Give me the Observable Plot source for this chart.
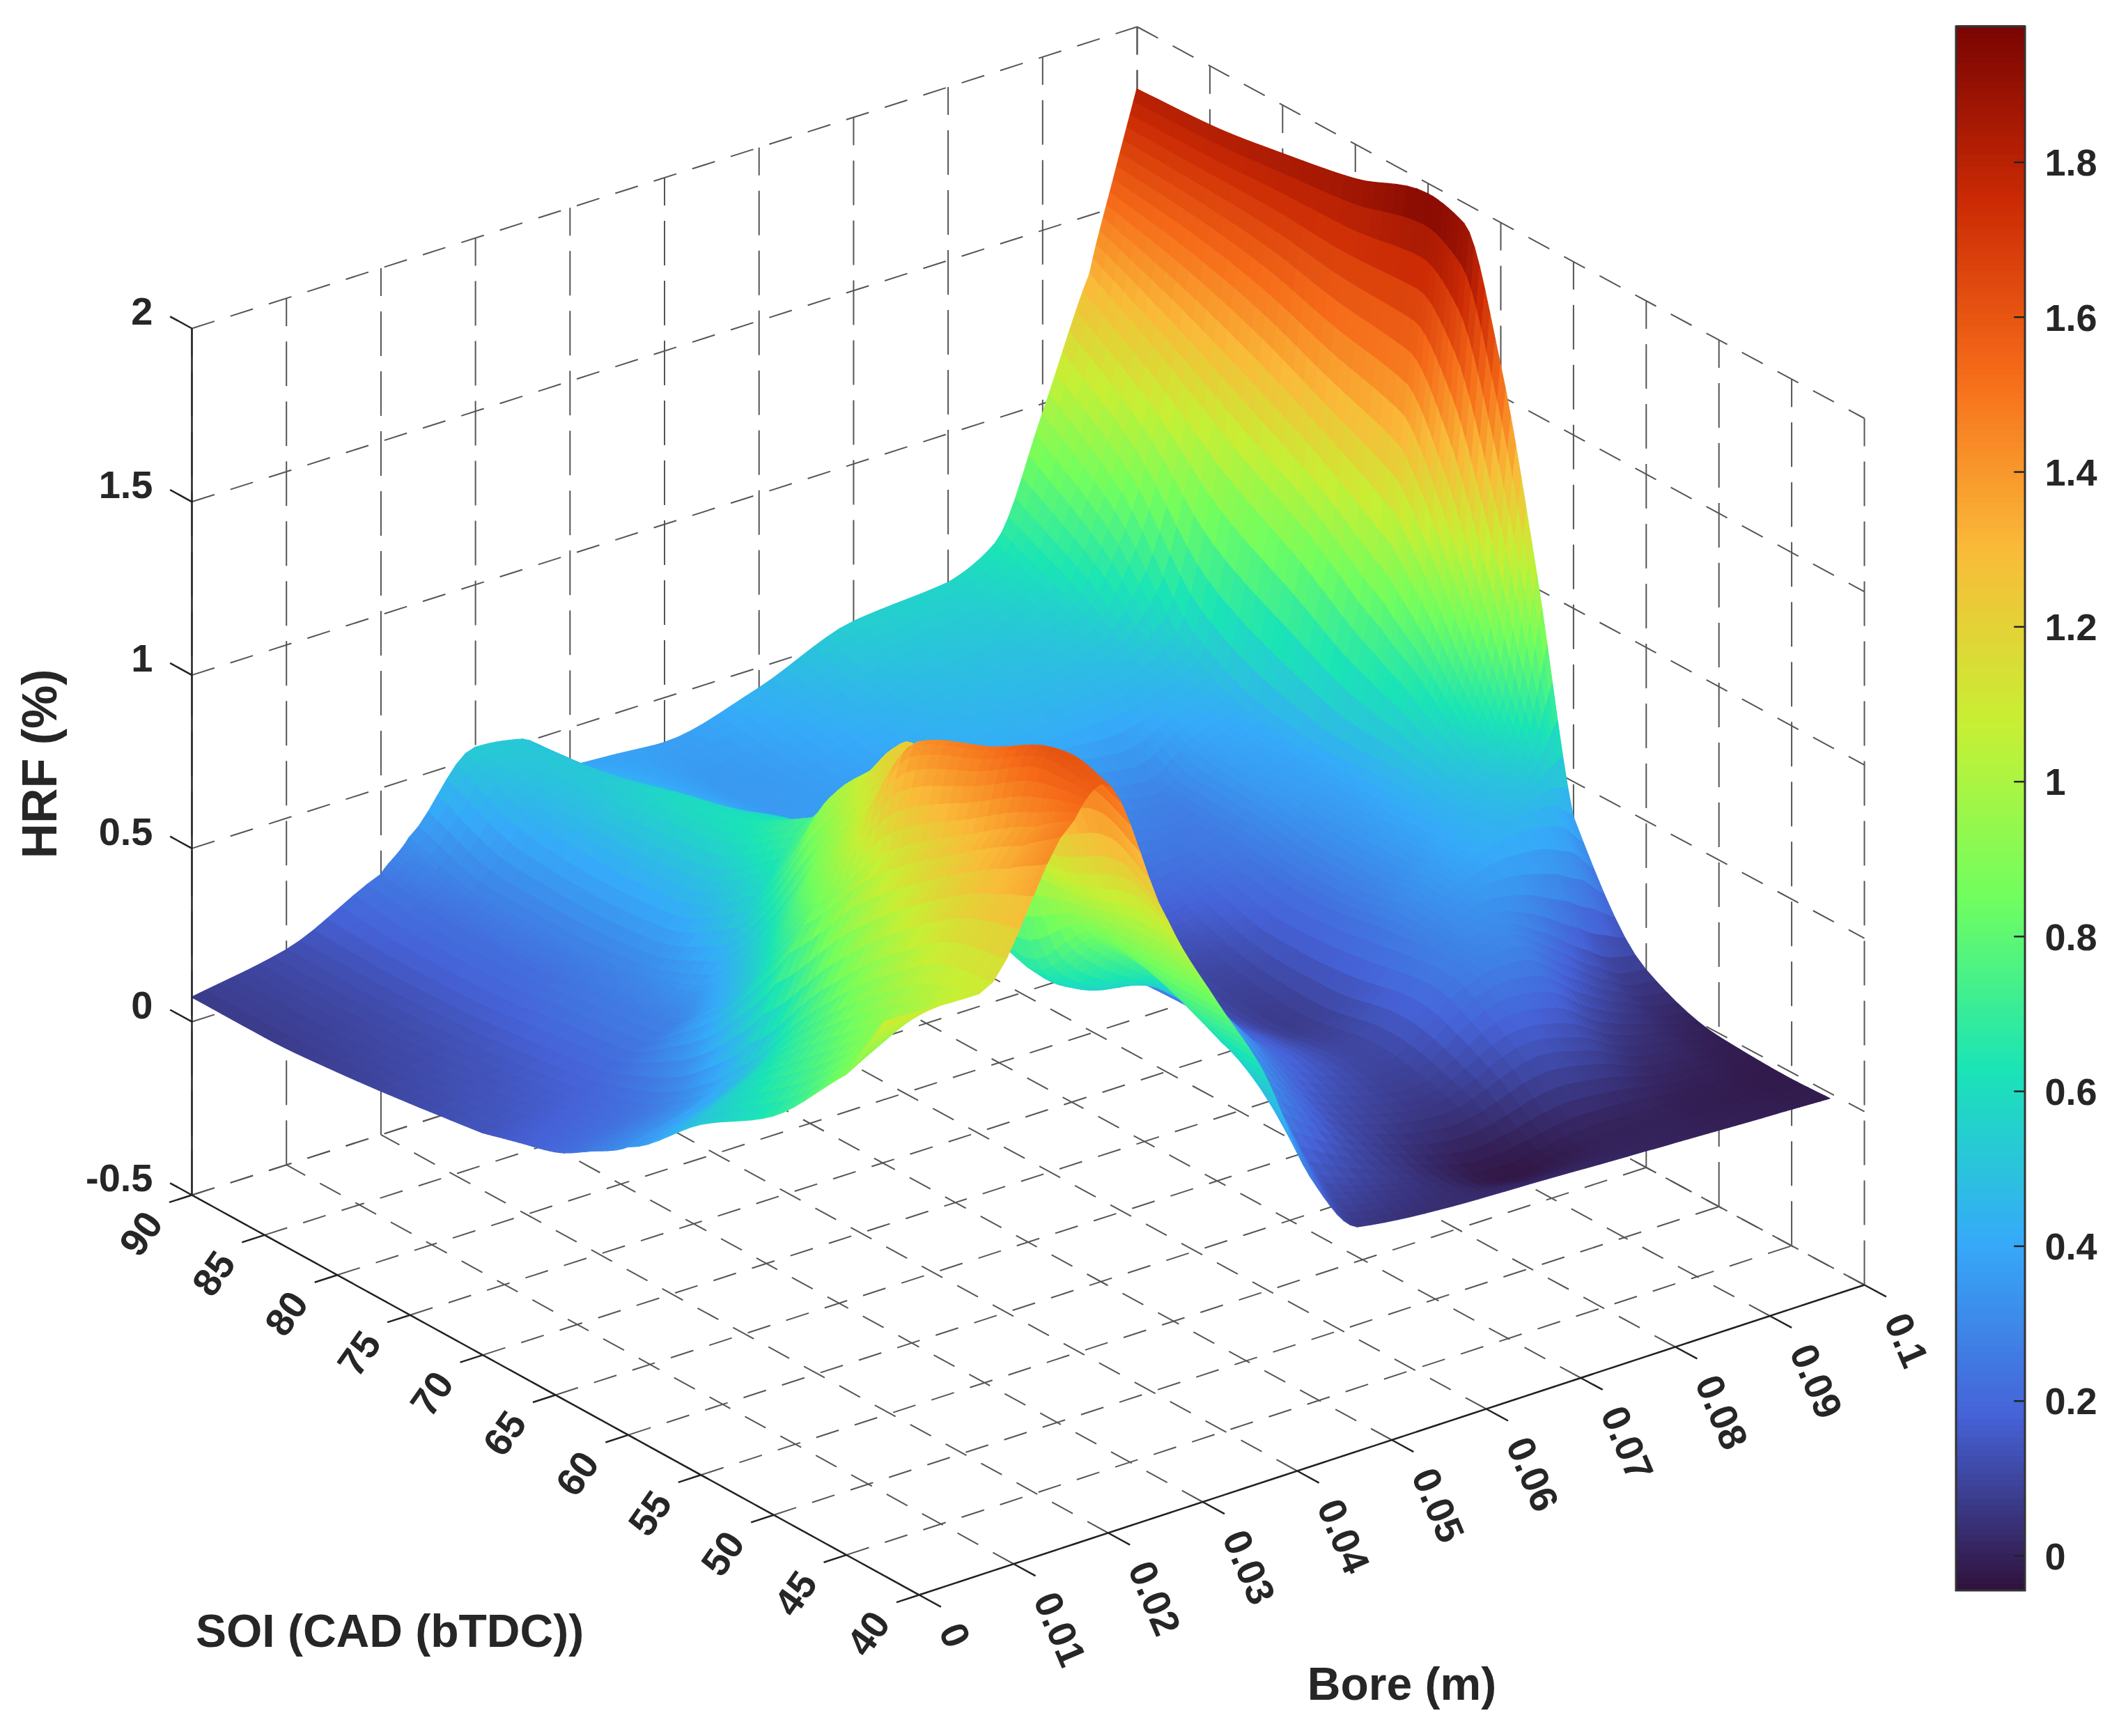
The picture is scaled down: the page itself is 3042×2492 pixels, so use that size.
<!DOCTYPE html>
<html><head><meta charset="utf-8">
<script src="https://cdn.jsdelivr.net/npm/d3@7"></script>
<script src="https://cdn.jsdelivr.net/npm/@observablehq/plot@0.6"></script>
<style>
html,body{margin:0;background:#fff}
#wrap{position:relative;width:3042px;height:2492px;overflow:hidden}
#wrap svg{position:absolute;top:0}
</style></head><body><div id="wrap"></div>
<script>
const boreTicks=[0,0.01,0.02,0.03,0.04,0.05,0.06,0.07,0.08,0.09,0.1];
const soiTicks=[90,85,80,75,70,65,60,55,50,45,40];
const hrfTicks=[-0.5,0,0.5,1,1.5,2];
const barTicks=[0,0.2,0.4,0.6,0.8,1,1.2,1.4,1.6,1.8];
const barDomain=[-0.045,1.975];
const turboStops=["#30123B","#4662D7","#36AAF9","#1AE4B6","#72FE5E","#C8EF34","#FABA39","#F66B19","#CB2A04","#7A0403"];

const boreCols=[0,0.01,0.02,0.023,0.03,0.035,0.04,0.045,0.05,0.06,0.07,0.08,0.085,0.09,0.095,0.0975,0.1];
const soiRows=[90,85,80,75,70,67.5,65,62.5,60,55,50,45,42.35];
const hrf90=[0.07,0.12,0.25,0.33,0.53,0.51,0.39,0.38,0.37,0.44,0.545,0.57,0.64,0.97,1.33,1.58,1.82];
const hrf85=[0.07,0.12,0.22,0.27,0.45,0.52,0.45,0.39,0.35,0.40,0.47,0.50,0.55,0.80,1.20,1.55,1.83];
const hrf80=[0.085,0.13,0.22,0.27,0.44,0.58,0.50,0.42,0.36,0.37,0.42,0.43,0.45,0.52,1.05,1.50,1.86];
const hrf75=[0.11,0.15,0.25,0.29,0.46,0.62,0.58,0.46,0.37,0.35,0.33,0.27,0.37,0.42,0.92,1.42,1.90];
const hrf70=[0.14,0.18,0.28,0.36,0.60,0.74,0.62,0.47,0.36,0.28,0.20,0.25,0.35,0.40,0.76,1.35,1.97];
const hrf675=[0.17,0.21,0.38,0.47,0.78,0.87,0.66,0.50,0.38,0.25,0.14,0.23,0.33,0.41,0.68,1.15,1.94];
const hrf65=[0.20,0.25,0.50,0.63,0.98,0.92,0.66,0.52,0.40,0.22,0.10,0.22,0.33,0.42,0.58,0.88,1.59];
const hrf625=[0.26,0.32,0.67,0.85,1.10,0.85,0.62,0.50,0.41,0.20,0.08,0.23,0.33,0.42,0.50,0.62,1.04];
const hrf60=[0.33,0.42,0.85,1.02,1.23,0.75,0.58,0.47,0.42,0.20,0.07,0.25,0.35,0.42,0.45,0.45,0.40];
const hrf55=[0.51,0.68,1.12,1.41,1.15,0.65,0.55,0.52,0.47,0.20,0.10,0.27,0.30,0.22,0.12,0.08,0.07];
const hrf50=[0.65,0.90,1.28,1.51,1.10,0.85,0.72,0.60,0.36,0.12,0.06,0.15,0.12,0.05,0.02,0.0,-0.01];
const hrf45=[0.885,1.05,1.42,1.61,1.18,0.85,0.62,0.42,0.15,0.05,-0.03,0.0,0.0,-0.01,-0.015,-0.02,-0.02];
const hrf42=[1.10,1.09,1.50,1.58,1.12,0.85,0.60,0.25,0.06,0.03,0.019,0.007,0.001,-0.005,-0.01,-0.013,-0.016];
const hrfRows=[hrf90,hrf85,hrf80,hrf75,hrf70,hrf675,hrf65,hrf625,hrf60,hrf55,hrf50,hrf45,hrf42];

// the chart's oblique 3-D view of (bore, SOI, HRF) onto the page
function sx(b,s){return 1319+1357*(b/0.1)-1044*((s-40)/50);}
function sy(b,s,h){const bf=b/0.1,sf=(s-40)/50;return 2289-445*bf-574*sf-497.6*(h+0.5)+12*bf*sf;}

// shading of the surface between the read grid values (like interpolated shading)
const slope=(d1,d2)=>d1*d2<=0?0:2*d1*d2/(d1+d2);
function mono(a,b,c,d,t){
  const d1=b-a,d2=c-b,d3=d-c,m1=slope(d1,d2),m2=slope(d2,d3),t2=t*t,t3=t2*t;
  return (2*t3-3*t2+1)*b+(t3-2*t2+t)*m1+(-2*t3+3*t2)*c+(t3-t2)*m2;
}
const nB=boreCols.length,nS=soiRows.length;
function at(i,j){
  if(j<0)return 2*at(i,0)-at(i,1);
  if(j>=nS)return 2*at(i,nS-1)-at(i,nS-2);
  if(i<0)return 2*at(0,j)-at(1,j);
  if(i>=nB)return 2*at(nB-1,j)-at(nB-2,j);
  return hrfRows[j][i];
}
function shade(u,v){
  const i=Math.min(Math.floor(u),nB-2),j=Math.min(Math.floor(v),nS-2),tu=u-i,tv=v-j;
  const r=[-1,0,1,2].map(k=>mono(at(i-1,j+k),at(i,j+k),at(i+1,j+k),at(i+2,j+k),tu));
  return mono(r[0],r[1],r[2],r[3],tv);
}
const N=7,cells=[];
const nU=(nB-1)*N,nV=(nS-1)*N;
function P(iu,iv){
  const u=iu/N,v=iv/N,iB=Math.min(Math.floor(u),nB-2),iS=Math.min(Math.floor(v),nS-2);
  const b=boreCols[iB]+(boreCols[iB+1]-boreCols[iB])*(u-iB),s=soiRows[iS]+(soiRows[iS+1]-soiRows[iS])*(v-iS),h=shade(u,v);
  return {x:sx(b,s),y:sy(b,s,h),h};
}
const grid=d3.range(nU+1).map(iu=>d3.range(nV+1).map(iv=>P(iu,iv)));
let id=0;
for(let iu=nU-1;iu>=0;iu--)for(let iv=0;iv<nV;iv++){
  const a=grid[iu][iv],b=grid[iu+1][iv],c=grid[iu][iv+1],d=grid[iu+1][iv+1],v=(a.h+b.h+c.h+d.h)/4;
  cells.push({x1:a.x,y1:a.y,x2:b.x,y2:b.y,v,id},{x1:c.x,y1:c.y,x2:d.x,y2:d.y,v,id});id++;
}

// grid lines
const seg=(b1,s1,h1,b2,s2,h2)=>({x1:sx(b1,s1),y1:sy(b1,s1,h1),x2:sx(b2,s2),y2:sy(b2,s2,h2)});
const hMin=hrfTicks[0],hMax=hrfTicks[hrfTicks.length-1],sBack=90,sFront=40,bBack=0.1,bFront=0;
const vertical=[...boreTicks.map(b=>seg(b,sBack,hMin,b,sBack,hMax)),...soiTicks.map(s=>seg(bBack,s,hMin,bBack,s,hMax))];
const oblique=[
  ...boreTicks.map(b=>seg(b,sFront,hMin,b,sBack,hMin)),
  ...soiTicks.map(s=>seg(bFront,s,hMin,bBack,s,hMin)),
  ...hrfTicks.map(h=>seg(bFront,sBack,h,bBack,sBack,h)),
  ...hrfTicks.map(h=>seg(bBack,sBack,h,bBack,sFront,h))
];
const frame=[seg(bFront,sBack,hMin,bFront,sBack,hMax),seg(bFront,sBack,hMin,bFront,sFront,hMin),seg(bFront,sFront,hMin,bBack,sFront,hMin)];
const tickMarks=[
  ...hrfTicks.map(h=>seg(bFront,sBack,h,bFront,sBack+1.5,h)),
  ...soiTicks.map(s=>seg(bFront,s,hMin,-0.0024,s,hMin)),
  ...boreTicks.map(b=>seg(b,sFront,hMin,b,sFront-1.5,hMin))
];

const font="'Liberation Sans',Arial,sans-serif",ink="#262626";
const main=Plot.plot({
  width:3042,height:2492,margin:0,style:{background:"transparent",fontFamily:font},
  x:{domain:[0,3042],range:[0,3042],axis:null},
  y:{domain:[0,2492],range:[0,2492],axis:null},
  color:{domain:barDomain,interpolate:d3.piecewise(d3.interpolateRgb,turboStops),clamp:true},
  marks:[
    Plot.link(vertical,{x1:"x1",y1:"y1",x2:"x2",y2:"y2",stroke:"#555",strokeWidth:2,strokeDasharray:"64,22"}),
    Plot.link(oblique,{x1:"x1",y1:"y1",x2:"x2",y2:"y2",stroke:"#555",strokeWidth:2,strokeDasharray:"34,24"}),
    Plot.area(cells,{x1:"x1",y1:"y1",x2:"x2",y2:"y2",z:"id",fill:"v",stroke:"v",strokeWidth:1.2}),
    Plot.link(frame,{x1:"x1",y1:"y1",x2:"x2",y2:"y2",stroke:"#222",strokeWidth:2.5}),
    Plot.link(tickMarks,{x1:"x1",y1:"y1",x2:"x2",y2:"y2",stroke:"#222",strokeWidth:2.5}),
    Plot.text(hrfTicks,{x:()=>219,y:h=>sy(bFront,sBack,h),dy:-23,text:h=>String(h),textAnchor:"end",fontSize:56,fontWeight:"bold",fill:ink}),
    Plot.text(soiTicks,{x:s=>sx(bFront,s),y:s=>sy(bFront,s,hMin),dx:-72,dy:56,rotate:-55,text:s=>String(s),fontSize:56,fontWeight:"bold",fill:ink}),
    Plot.text(boreTicks,{x:b=>sx(b,sFront),y:b=>sy(b,sFront,hMin),dx:44,dy:44,rotate:67,text:b=>String(b),textAnchor:"start",fontSize:56,fontWeight:"bold",fill:ink}),
    Plot.text(["SOI (CAD (bTDC))"],{x:()=>559,y:()=>2342,text:d=>d,fontSize:66,fontWeight:"bold",fill:ink}),
    Plot.text(["Bore (m)"],{x:()=>2012,y:()=>2418,text:d=>d,fontSize:66,fontWeight:"bold",fill:ink}),
    Plot.text(["HRF (%)"],{x:()=>58,y:()=>1096,rotate:-90,text:d=>d,fontSize:70,fontWeight:"bold",fill:ink})
  ]
});
document.getElementById("wrap").appendChild(main);

// colour bar
const levels=d3.range(256).map(i=>barDomain[0]+(barDomain[1]-barDomain[0])*i/256);
const step=(barDomain[1]-barDomain[0])/256;
const bar=Plot.plot({
  width:242,height:2492,marginLeft:8,marginRight:135,marginTop:38,marginBottom:209,
  style:{background:"transparent",fontFamily:font},
  x:{domain:[0,1],axis:null},
  y:{domain:barDomain,axis:null},
  color:{domain:barDomain,interpolate:d3.piecewise(d3.interpolateRgb,turboStops)},
  marks:[
    Plot.rect(levels,{x1:()=>0,x2:()=>1,y1:d=>d,y2:d=>d+step*1.2,fill:d=>d+step/2}),
    Plot.ruleY(barTicks,{x1:()=>0.84,x2:()=>1,stroke:"#222",strokeWidth:2.5}),
    Plot.rect([0],{x1:()=>0,x2:()=>1,y1:()=>barDomain[0],y2:()=>barDomain[1],fill:"none",stroke:"#333",strokeWidth:3}),
    Plot.text(barTicks,{x:()=>1,y:d=>d,dx:28,dy:2,text:d=>String(d),textAnchor:"start",fontSize:54,fontWeight:"bold",fill:ink})
  ]
});
bar.style.left="2800px";
bar.style.overflow="visible";
document.getElementById("wrap").appendChild(bar);
</script></body></html>
